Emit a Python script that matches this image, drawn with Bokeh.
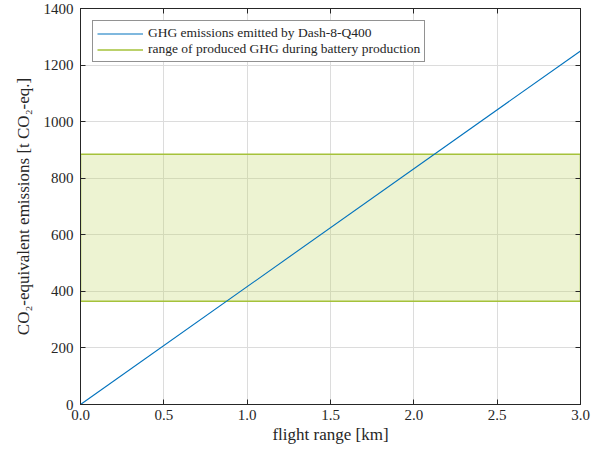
from bokeh.plotting import figure
from bokeh.models import Range1d, LinearAxis, Legend, LegendItem, FixedTicker
from bokeh.embed import file_html
from bokeh.resources import INLINE

# data
flight_range = [0.0, 3.0]
ghg_emitted = [0.0, 1250.0]
band_x = [0.0, 3.0]
battery_low = [365.0, 365.0]
battery_high = [885.0, 885.0]
x_ticks = [0.0, 0.5, 1.0, 1.5, 2.0, 2.5, 3.0]
y_ticks = [0, 200, 400, 600, 800, 1000, 1200, 1400]

FONT = "Liberation Serif"
AX = "#262626"
GREEN = "#a5c23a"

p = figure(width=592, height=446, output_backend="svg", toolbar_location=None,
           x_range=Range1d(0, 3), y_range=Range1d(0, 1400),
           min_border_left=80, min_border_right=12, min_border_top=8, min_border_bottom=10)
p.background_fill_color = "white"
p.border_fill_color = "white"
p.outline_line_color = AX
p.outline_line_width = 1

# band
p.varea(x=band_x, y1=battery_low, y2=battery_high, fill_color="#c3d66a", fill_alpha=0.3)
r_hi = p.line(band_x, battery_high, line_color=GREEN, line_width=1.5)
p.line(band_x, battery_low, line_color=GREEN, line_width=1.5)
p.segment(x0=[band_x[0], band_x[1]], y0=[battery_low[0], battery_low[1]],
          x1=[band_x[0], band_x[1]], y1=[battery_high[0], battery_high[1]],
          line_color=GREEN, line_width=1.5)

# emissions line
r_line = p.line(flight_range, ghg_emitted, line_color="#0072BD", line_width=1.1)

p.xaxis.major_label_text_font = FONT
p.yaxis.major_label_text_font = FONT
p.xaxis.axis_label_text_font = FONT
p.yaxis.axis_label_text_font = FONT
p.xaxis.major_label_text_font_size = "15px"
p.yaxis.major_label_text_font_size = "15px"
p.xaxis.axis_label_text_font_size = "17px"
p.yaxis.axis_label_text_font_size = "17px"
p.xaxis.axis_label_text_font_style = "normal"
p.yaxis.axis_label_text_font_style = "normal"
p.xaxis.major_label_text_color = AX
p.yaxis.major_label_text_color = AX
p.xaxis.axis_label_text_color = AX
p.yaxis.axis_label_text_color = AX

p.xaxis.ticker = FixedTicker(ticks=x_ticks)
p.yaxis.ticker = FixedTicker(ticks=y_ticks)
p.xaxis.major_label_overrides = {t: f"{t:.1f}" for t in x_ticks}
p.xaxis.axis_label = "flight range [km]"
p.yaxis.axis_label = "CO\u2082-equivalent emissions [t CO\u2082-eq.]"
p.xaxis.major_label_standoff = 5
p.yaxis.major_label_standoff = 7
p.xaxis.axis_label_standoff = 2
p.yaxis.axis_label_standoff = 8

for loc, tick in [("right", y_ticks), ("above", x_ticks)]:
    a = LinearAxis(ticker=FixedTicker(ticks=tick))
    a.major_label_text_font_size = "0px"
    a.major_label_standoff = 0
    a.major_label_text_color = None
    p.add_layout(a, loc)

p.axis.axis_line_color = AX
p.axis.major_tick_line_color = AX
p.axis.major_tick_in = 5
p.axis.major_tick_out = 0
p.axis.minor_tick_line_color = None

p.xgrid.ticker = FixedTicker(ticks=x_ticks)
p.ygrid.ticker = FixedTicker(ticks=y_ticks)
p.grid.grid_line_color = "#dcdcdc"
p.grid.grid_line_width = 1

legend = Legend(items=[
    LegendItem(label="GHG emissions emitted by Dash-8-Q400", renderers=[r_line]),
    LegendItem(label="range of produced GHG during battery production", renderers=[r_hi]),
], location="top_left")
legend.label_text_font = FONT
legend.label_text_font_size = "13.5px"
legend.label_text_color = AX
legend.glyph_width = 46
legend.glyph_height = 15
legend.label_height = 15
legend.label_standoff = 5
legend.spacing = 0
legend.padding = 4
legend.margin = 12
legend.border_line_color = AX
legend.border_line_width = 1
legend.background_fill_color = "white"
legend.background_fill_alpha = 1
p.add_layout(legend)

open("out.html", "w").write(file_html(p, INLINE))
